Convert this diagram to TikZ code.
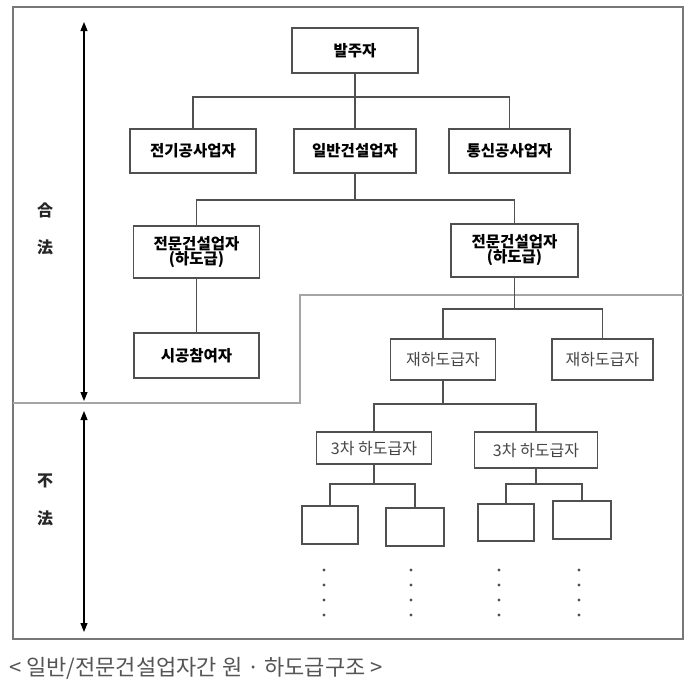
\documentclass[tikz,border=0pt]{standalone}
\usepackage{fontspec}
\setmainfont{Noto Sans CJK KR}
\usetikzlibrary{arrows.meta}

\begin{document}
\begin{tikzpicture}[
    x=1pt, y=-1pt,
    box/.style={draw=linegray, line width=1.3pt, inner sep=1pt, align=center,
        font=\fontsize{15.5}{15}\selectfont\bfseries},
    subbox/.style={draw=linegray, line width=1.3pt, inner sep=1pt,
        text=textgray, font=\fontsize{16}{17}\selectfont},
    link/.style={linegray, line width=1.3pt},
    bound/.style={{Triangle[width=7pt,length=9pt]}-{Triangle[width=7pt,length=9pt]}, line width=1.1pt},
    hanja/.style={font=\fontsize{16}{16}\selectfont\bfseries, text=black!85}
]

% Colors
\definecolor{linegray}{RGB}{80,80,80}
\definecolor{textgray}{RGB}{70,70,70}
\definecolor{framegray}{RGB}{120,120,120}
\definecolor{sepgray}{RGB}{165,165,165}
\definecolor{capgray}{RGB}{85,85,85}

\useasboundingbox (0,0) rectangle (700,691);

% Frame and legal / illegal border
\draw[framegray, line width=1.3pt] (13,7) rectangle (683,639);
\draw[sepgray, line width=1.1pt] (13,403) -- (300,403) -- (300,295) -- (683,295);

% Side arrows
\coordinate (legTop) at (84,22);
\coordinate (legBot) at (84,401);
\coordinate (illTop) at (84,411);
\coordinate (illBot) at (84,632);
\draw[bound] (legTop) -- (legBot);
\draw[bound] (illTop) -- (illBot);

\node[hanja] (hap) at (45,210) {合};
\node[hanja] (beopA) at (45,247) {法};
\node[hanja] (bul) at (45,481) {不};
\node[hanja] (beopB) at (45,518) {法};

% Boxes
\node[box, minimum width=126pt, minimum height=45pt] (bal) at (355,50.5) {발주자};

\node[box, minimum width=126pt, minimum height=44pt] (elec) at (193,151) {전기공사업자};
\node[box, minimum width=122pt, minimum height=44pt] (gen) at (355,151) {일반건설업자};
\node[box, minimum width=121pt, minimum height=44pt] (tele) at (509.5,151) {통신공사업자};

\node[box, minimum width=126pt, minimum height=52pt] (spl) at (196.5,252) {전문건설업자\\(하도급)};
\node[box, minimum width=127pt, minimum height=53pt] (spr) at (514.5,250.5) {전문건설업자\\(하도급)};

\node[box, minimum width=125pt, minimum height=45pt] (part) at (196.5,355.5) {시공참여자};

\node[subbox, minimum width=105pt, minimum height=41pt] (reA) at (443,359.5) {재하도급자};
\node[subbox, minimum width=101pt, minimum height=41pt] (reB) at (602.5,359.5) {재하도급자};

\node[subbox, minimum width=115pt, minimum height=32pt] (thA) at (374,448) {3차 하도급자};
\node[subbox, minimum width=123pt, minimum height=36pt] (thB) at (536,450) {3차 하도급자};

\node[subbox, minimum width=56pt, minimum height=38pt] (endA) at (330,525) {};
\node[subbox, minimum width=58pt, minimum height=38pt] (endB) at (415,527) {};
\node[subbox, minimum width=56pt, minimum height=37pt] (endC) at (506,522.5) {};
\node[subbox, minimum width=58pt, minimum height=38pt] (endD) at (582,520) {};

% Connectors
\coordinate (busA) at (0,97);
\coordinate (busB) at (0,200);
\coordinate (busC) at (0,309);
\coordinate (busD) at (0,404);
\coordinate (busE) at (0,484);

\draw[link] (bal.south) -- (bal.south |- busA);
\draw[link] (elec.north) |- (tele.north |- busA) -- (tele.north);
\draw[link] (gen.north) -- (gen.north |- busA);

\draw[link] (gen.south) -- (gen.south |- busB);
\draw[link] (spl.north) |- (spr.north |- busB) -- (spr.north);
\draw[link] (spl.south) -- (part.north);

\draw[link] (spr.south) -- (spr.south |- busC);
\draw[link] (reA.north) |- (reB.north |- busC) -- (reB.north);

\draw[link] (reA.south) -- (reA.south |- busD);
\draw[link] (thA.north) |- (thB.north |- busD) -- (thB.north);

\draw[link] (thA.south) -- (thA.south |- busE);
\draw[link] (endA.north) |- (endB.north |- busE) -- (endB.north);
\draw[link] (thB.south) -- (thB.south |- busE);
\draw[link] (endC.north) |- (endD.north |- busE) -- (endD.north);

% Continuation dots
\foreach \x in {324,411,499,579}
    \foreach \y in {570,585,600,615}
        \fill[linegray] (\x,\y) circle (1.6pt);

% Caption
\node[anchor=west, text=capgray, font=\fontsize{22}{22}\selectfont, inner sep=0pt] (cap) at (9,668)
    {< 일반/전문건설업자간 원 · 하도급구조 >};

\end{tikzpicture}
\end{document}
